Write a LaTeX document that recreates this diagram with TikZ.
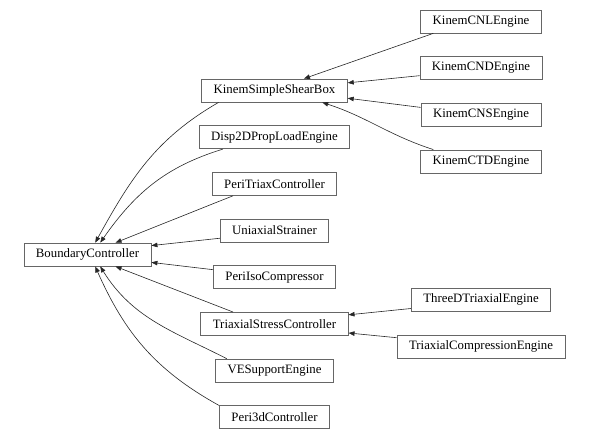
\documentclass[tikz,border=0pt]{standalone}
\usepackage{fontspec}
\setmainfont{Liberation Serif}
\usetikzlibrary{positioning, arrows.meta}

\begin{document}
\begin{tikzpicture}
    [
        node distance=35pt and 140.25pt, on grid,
        class_node/.style={rectangle, draw=black!60, fill=white, line width=0.6pt, minimum height=17.25pt, inner xsep=9pt, inner ysep=0pt, font=\fontsize{9.6}{11}\selectfont},
        arrow_line/.style={-{Triangle[length=4.5pt, width=3.4pt]}, line width=0.45pt, color=black!85},
    ]
        \useasboundingbox (-65.6pt,-138.4pt) rectangle (376.1pt,190.9pt);
        \node[class_node] (bc) {BoundaryController} ;
        \node[class_node] (uni) [above right = 18pt and 140.25pt of bc] {UniaxialStrainer} ;
        \node[class_node] (peritriax) [above = of uni] {PeriTriaxController} ;
        \node[class_node] (disp) [above = of peritriax] {Disp2DPropLoadEngine} ;
        \node[class_node] (kssb) [above = of disp] {KinemSimpleShearBox} ;
        \node[class_node] (periiso) [below = of uni] {PeriIsoCompressor} ;
        \node[class_node] (tsc) [below = of periiso] {TriaxialStressController} ;
        \node[class_node] (ves) [below = of tsc] {VESupportEngine} ;
        \node[class_node] (peri3d) [below = of ves] {Peri3dController} ;
        \node[class_node] (cnd) [above right = 16.8pt and 154.9pt of kssb] {KinemCNDEngine} ;
        \node[class_node] (cnl) [above = of cnd] {KinemCNLEngine} ;
        \node[class_node] (cns) [below = of cnd] {KinemCNSEngine} ;
        \node[class_node] (ctd) [below = of cns] {KinemCTDEngine} ;
        \node[class_node] (threed) [above right = 18pt and 154.9pt of tsc] {ThreeDTriaxialEngine} ;
        \node[class_node] (triaxcomp) [below = of threed] {TriaxialCompressionEngine} ;
        \draw[arrow_line] (kssb.-168) to[out=210, in=61] (bc.57) ;
        \draw[arrow_line] (disp.-167) to[out=197, in=55] (bc.43) ;
        \draw[arrow_line] (peritriax.-164.5) -- (bc.23) ;
        \draw[arrow_line] (uni.-172) -- (bc.8.5) ;
        \draw[arrow_line] (periiso.173) -- (bc.-7.6) ;
        \draw[arrow_line] (tsc.164.4) -- (bc.-23) ;
        \draw[arrow_line] (ves.166) to[out=153, in=-58] (bc.-43) ;
        \draw[arrow_line] (peri3d.168) to[out=151, in=-66] (bc.-57) ;
        \draw[arrow_line] (cnl.-166) -- (kssb.22) ;
        \draw[arrow_line] (cnd.-173) -- (kssb.6.8) ;
        \draw[arrow_line] (cns.173) -- (kssb.-6.8) ;
        \draw[arrow_line] (ctd.166) to[out=162, in=-18] (kssb.-14) ;
        \draw[arrow_line] (threed.-173) -- (tsc.7) ;
        \draw[arrow_line] (triaxcomp.174) -- (tsc.-7) ;
    \end{tikzpicture}
\end{document}
